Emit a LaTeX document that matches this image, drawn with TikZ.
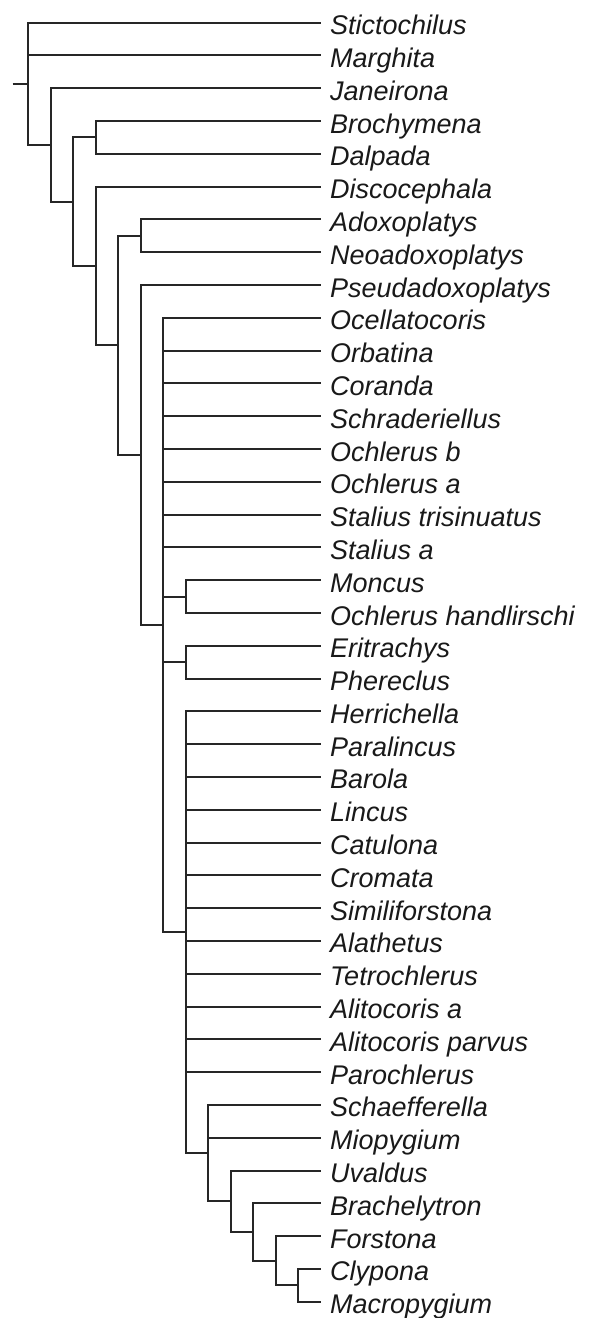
\documentclass[tikz,border=0pt]{standalone}
\usepackage{fontspec}
\setmainfont{Liberation Sans}
\begin{document}
\begin{tikzpicture}[x=1pt,y=-1pt,
  branch/.style={line width=2pt, draw=black!85},
  taxon/.style={font=\fontsize{27}{32}\selectfont\itshape, anchor=base west, inner sep=0pt, text=black!90}]
\useasboundingbox (0,0) rectangle (595,1318);
% leaves
\foreach \i/\t in {1/Stictochilus,2/Marghita,3/Janeirona,4/Brochymena,5/Dalpada,
  6/Discocephala,7/Adoxoplatys,8/Neoadoxoplatys,9/Pseudadoxoplatys,10/Ocellatocoris,
  11/Orbatina,12/Coranda,13/Schraderiellus,14/Ochlerus b,15/Ochlerus a,
  16/Stalius trisinuatus,17/Stalius a,18/Moncus,19/Ochlerus handlirschi,20/Eritrachys,
  21/Phereclus,22/Herrichella,23/Paralincus,24/Barola,25/Lincus,26/Catulona,
  27/Cromata,28/Similiforstona,29/Alathetus,30/Tetrochlerus,31/Alitocoris a,
  32/Alitocoris parvus,33/Parochlerus,34/Schaefferella,35/Miopygium,36/Uvaldus,
  37/Brachelytron,38/Forstona,39/Clypona,40/Macropygium}{
  \pgfmathsetmacro\yy{22.7+(\i-1)*32.795}
  \coordinate (t\i) at (320.5,\yy);
  \node[taxon] (l\i) at (330,{\yy+12}) {\t};
}
% internal nodes
\coordinate (r0)  at (12.7,83.87);
\coordinate (root) at (28.3,83.87);
\coordinate (N1)  at (50.7,145.04);
\coordinate (N2)  at (73.3,201.79);
\coordinate (N3)  at (96,137.49);
\coordinate (N4)  at (96,266.08);
\coordinate (N5)  at (118.3,345.47);
\coordinate (N6)  at (140.7,235.87);
\coordinate (N7)  at (140.7,455.06);
\coordinate (N8)  at (163.3,625.06);
\coordinate (N9)  at (186,596.62);
\coordinate (N10) at (186,662.21);
\coordinate (N11) at (186,932.26);
\coordinate (N12) at (208.3,1153.11);
\coordinate (N13) at (230.7,1201.28);
\coordinate (N14) at (253.3,1232.02);
\coordinate (N15) at (276,1260.72);
\coordinate (N16) at (298.3,1285.31);
% branches
\draw[branch] (r0) -- (root);
\foreach \p/\c in {root/t1,root/t2,root/N1,
  N1/t3,N1/N2,
  N2/N3,N2/N4,
  N3/t4,N3/t5,
  N4/t6,N4/N5,
  N5/N6,N5/N7,
  N6/t7,N6/t8,
  N7/t9,N7/N8,
  N8/t10,N8/t11,N8/t12,N8/t13,N8/t14,N8/t15,N8/t16,N8/t17,N8/N9,N8/N10,N8/N11,
  N9/t18,N9/t19,
  N10/t20,N10/t21,
  N11/t22,N11/t23,N11/t24,N11/t25,N11/t26,N11/t27,N11/t28,N11/t29,N11/t30,N11/t31,N11/t32,N11/t33,N11/N12,
  N12/t34,N12/t35,N12/N13,
  N13/t36,N13/N14,
  N14/t37,N14/N15,
  N15/t38,N15/N16,
  N16/t39,N16/t40}{
  \draw[branch] (\p) |- (\c);
}
\end{tikzpicture}
\end{document}
